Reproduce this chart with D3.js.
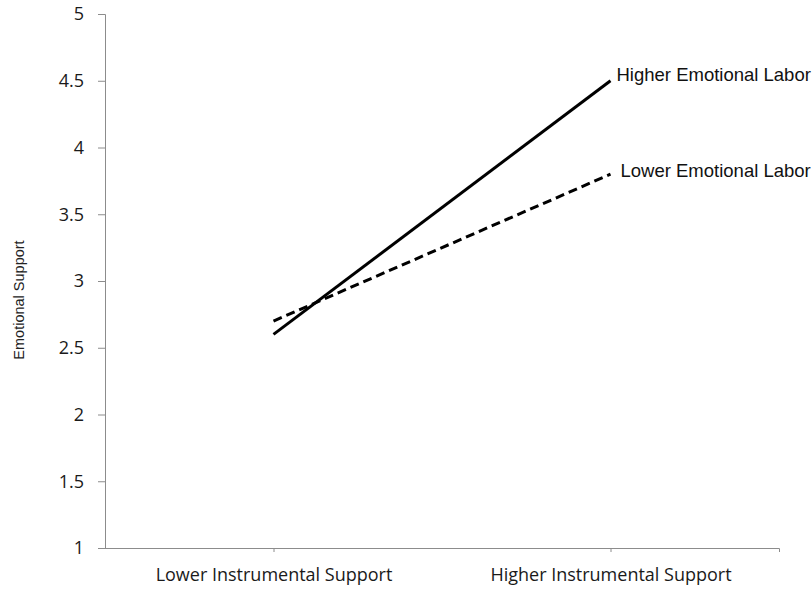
<!DOCTYPE html>
<html><head><meta charset="utf-8">
<script src="https://cdn.jsdelivr.net/npm/d3@7"></script>
<style>body{margin:0;background:#fff}</style>
</head><body>
<svg id="c" width="812" height="590"></svg>
<script>
const categories = ["Lower Instrumental Support", "Higher Instrumental Support"];
const seriesNames = ["Higher Emotional Labor", "Lower Emotional Labor"];
const higherEL = [2.6, 4.5];
const lowerEL = [2.7, 3.8];
const yTicks = [1, 1.5, 2, 2.5, 3, 3.5, 4, 4.5, 5];
const yTitle = "Emotional Support";

const svg = d3.select("#c");
const x = d3.scalePoint().domain(categories).range([105, 779]).padding(0.5);
const y = d3.scaleLinear().domain([1, 5]).range([548, 14]);
const axisColor = "#8c8c8c";

// y axis
const ya = svg.append("g").attr("transform", "translate(105,0)")
  .call(d3.axisLeft(y).tickValues(yTicks).tickSize(7).tickPadding(14).tickFormat(d3.format("~g")));
ya.select(".domain").attr("stroke", axisColor).attr("d", "M-7,14.5H0.5V548.5");
ya.selectAll(".tick line").attr("stroke", axisColor);
ya.selectAll(".tick text").attr("font-family", "Open Sans").attr("font-size", 18).attr("fill", "#1a1a1a");

// x axis
const xa = svg.append("g").attr("transform", "translate(0,548)")
  .call(d3.axisBottom(x).tickSize(4).tickPadding(16));
xa.select(".domain").attr("stroke", axisColor).attr("d", "M105,0.5H779.5V4");
xa.selectAll(".tick line").attr("stroke", axisColor);
xa.selectAll(".tick text").attr("font-family", "Open Sans").attr("font-size", 18).attr("fill", "#1a1a1a");

// y title
svg.append("text").attr("transform", "translate(24,300) rotate(-90)")
  .attr("text-anchor", "middle").attr("font-family", "Liberation Sans, Arial")
  .attr("font-size", 14.5).attr("fill", "#222").text(yTitle);

const line = d3.line().x((d, i) => x(categories[i])).y(d => y(d));
const series = [
  {name: seriesNames[0], vals: higherEL, dash: null, dx: 6, dy: -5},
  {name: seriesNames[1], vals: lowerEL, dash: "9,5", dx: 10, dy: -2}
];
series.forEach(s => {
  svg.append("path").datum(s.vals).attr("d", line)
    .attr("fill", "none").attr("stroke", "#000").attr("stroke-width", 3)
    .attr("stroke-dasharray", s.dash);
  svg.append("text")
    .attr("x", x(categories[1]) + s.dx).attr("y", y(s.vals[1]) + s.dy)
    .attr("dominant-baseline", "middle")
    .attr("font-family", "Liberation Sans, Arial").attr("font-size", 18.5).attr("fill", "#111")
    .text(s.name);
});
</script>
</body></html>
